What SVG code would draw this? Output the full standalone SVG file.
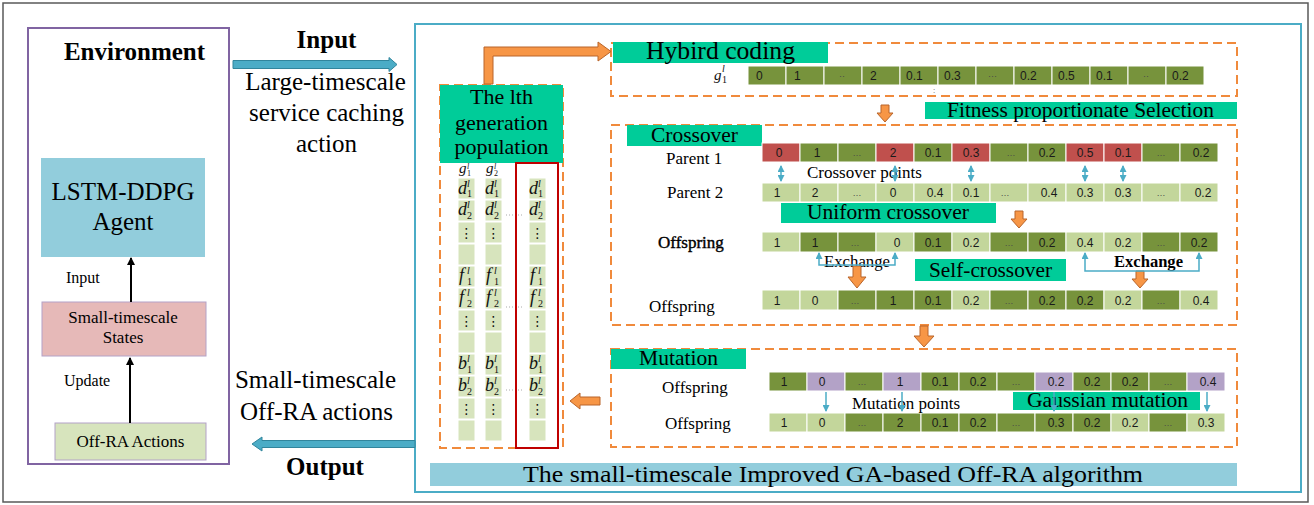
<svg xmlns="http://www.w3.org/2000/svg" width="1314" height="505" viewBox="0 0 1314 505">
<style>
.s{font-family:"Liberation Serif",serif;fill:#000}
.b{font-weight:bold}
.lab{fill:#00CC99}
.dash{fill:none;stroke:#F08A3C;stroke-width:2;stroke-dasharray:9,5}
.dk{fill:#77933C;stroke:#fff;stroke-width:1}
.lt{fill:#C3D69B;stroke:#fff;stroke-width:1}
.rd{fill:#C0504D;stroke:#fff;stroke-width:1}
.pu{fill:#B3A2C7;stroke:#fff;stroke-width:1}
.pc{fill:#D7E4BD;stroke:#fff;stroke-width:1}
.row text{font-family:"Liberation Sans",sans-serif;font-size:12px;fill:#1a1a1a;text-anchor:middle}
.row text.e{fill:#4a4a4a;font-size:9px}
.hy text{text-anchor:start}
.oa{fill:#F79646;stroke:#B9652A;stroke-width:1}
.ba{fill:#4BACC6;stroke:#31859C;stroke-width:1}
.bl{fill:none;stroke:#4BACC6;stroke-width:1.5}
.m{font-family:"Liberation Serif",serif;font-style:italic;font-size:18px;fill:#111}
.m .u{font-size:10px}
.m .n{font-size:10px;font-style:normal}
.g{font-size:15px}
.g .u,.g .n{font-size:8px}
.vd{font-family:"DejaVu Sans",sans-serif;font-size:14px;fill:#111;text-anchor:middle}
</style>
<defs>
<marker id="ak" markerWidth="8" markerHeight="8" refX="7" refY="4" orient="auto" markerUnits="userSpaceOnUse"><path d="M0,0 L8,4 L0,8 z" fill="#000"/></marker>
<marker id="ab" markerWidth="7" markerHeight="7" refX="6" refY="3.5" orient="auto-start-reverse" markerUnits="userSpaceOnUse"><path d="M0,0 L7,3.5 L0,7 z" fill="#4BACC6"/></marker>
</defs>
<rect x="0" y="0" width="1314" height="505" fill="#fff"/>
<rect x="3" y="3" width="1305" height="499" fill="none" stroke="#595959" stroke-width="1.5"/>

<!-- Left: environment -->
<g id="environment">
<rect x="28" y="28" width="201" height="436" fill="none" stroke="#8064A2" stroke-width="2"/>
<text class="s b" x="134.5" y="60" font-size="25" text-anchor="middle">Environment</text>
</g>
<g id="agent">
<rect x="41" y="158" width="164" height="99" fill="#92CDDC"/>
<text class="s" x="123" y="200" font-size="25" text-anchor="middle">LSTM-DDPG</text>
<text class="s" x="123" y="230" font-size="25" text-anchor="middle">Agent</text>
</g>
<g id="states">
<rect x="42" y="302" width="164" height="54" fill="#E6B9B8" stroke="#B3A2C7" stroke-width="1"/>
<text class="s" x="123" y="323" font-size="17" text-anchor="middle">Small-timescale</text>
<text class="s" x="123" y="343" font-size="17" text-anchor="middle">States</text>
</g>
<g id="offra">
<rect x="55" y="423" width="151" height="37" fill="#D7E4BD" stroke="#B3A2C7" stroke-width="1"/>
<text class="s" x="130.5" y="447" font-size="17" text-anchor="middle">Off-RA Actions</text>
</g>

<!-- Population -->
<g id="population">
<rect x="440" y="85" width="123" height="363" class="dash"/>
<rect x="440" y="85" width="123" height="78" class="lab"/>
<text class="s" x="501.5" y="104" font-size="22" text-anchor="middle">The lth</text>
<text class="s" x="501.5" y="130" font-size="22" text-anchor="middle">generation</text>
<text class="s" x="501.5" y="154" font-size="22" text-anchor="middle">population</text>
<g>
<rect class="pc" x="458" y="178" width="17" height="21"/><rect class="pc" x="458" y="200" width="17" height="21"/><rect class="pc" x="458" y="222" width="17" height="21"/><rect class="pc" x="458" y="244" width="17" height="21"/><rect class="pc" x="458" y="266" width="17" height="21"/><rect class="pc" x="458" y="288" width="17" height="21"/><rect class="pc" x="458" y="310" width="17" height="21"/><rect class="pc" x="458" y="332" width="17" height="21"/><rect class="pc" x="458" y="354" width="17" height="21"/><rect class="pc" x="458" y="376" width="17" height="21"/><rect class="pc" x="458" y="398" width="17" height="21"/><rect class="pc" x="458" y="420" width="17" height="21"/>
<rect class="pc" x="485" y="178" width="17" height="21"/><rect class="pc" x="485" y="200" width="17" height="21"/><rect class="pc" x="485" y="222" width="17" height="21"/><rect class="pc" x="485" y="244" width="17" height="21"/><rect class="pc" x="485" y="266" width="17" height="21"/><rect class="pc" x="485" y="288" width="17" height="21"/><rect class="pc" x="485" y="310" width="17" height="21"/><rect class="pc" x="485" y="332" width="17" height="21"/><rect class="pc" x="485" y="354" width="17" height="21"/><rect class="pc" x="485" y="376" width="17" height="21"/><rect class="pc" x="485" y="398" width="17" height="21"/><rect class="pc" x="485" y="420" width="17" height="21"/>
<rect class="pc" x="529" y="178" width="17" height="21"/><rect class="pc" x="529" y="200" width="17" height="21"/><rect class="pc" x="529" y="222" width="17" height="21"/><rect class="pc" x="529" y="244" width="17" height="21"/><rect class="pc" x="529" y="266" width="17" height="21"/><rect class="pc" x="529" y="288" width="17" height="21"/><rect class="pc" x="529" y="310" width="17" height="21"/><rect class="pc" x="529" y="332" width="17" height="21"/><rect class="pc" x="529" y="354" width="17" height="21"/><rect class="pc" x="529" y="376" width="17" height="21"/><rect class="pc" x="529" y="398" width="17" height="21"/><rect class="pc" x="529" y="420" width="17" height="21"/>
</g>
<text class="m g"><tspan x="459" y="173">g</tspan><tspan class="u" x="467" y="169">l</tspan><tspan class="n" x="467" y="176">1</tspan></text>
<text class="m g"><tspan x="486" y="173">g</tspan><tspan class="u" x="494" y="169">l</tspan><tspan class="n" x="494" y="176">2</tspan></text>
<!-- d rows -->
<text class="m"><tspan x="458" y="194">d</tspan><tspan class="u" x="467" y="187">l</tspan><tspan class="n" x="467" y="197">1</tspan></text>
<text class="m"><tspan x="485" y="194">d</tspan><tspan class="u" x="494" y="187">l</tspan><tspan class="n" x="494" y="197">1</tspan></text>
<text class="m"><tspan x="529" y="194">d</tspan><tspan class="u" x="538" y="187">l</tspan><tspan class="n" x="538" y="197">1</tspan></text>
<text class="m"><tspan x="458" y="215">d</tspan><tspan class="u" x="467" y="208">l</tspan><tspan class="n" x="467" y="219">2</tspan></text>
<text class="m"><tspan x="485" y="215">d</tspan><tspan class="u" x="494" y="208">l</tspan><tspan class="n" x="494" y="219">2</tspan></text>
<text class="m"><tspan x="529" y="215">d</tspan><tspan class="u" x="538" y="208">l</tspan><tspan class="n" x="538" y="219">2</tspan></text>
<text class="vd" x="466.5" y="238">⋮</text><text class="vd" x="493.5" y="238">⋮</text><text class="vd" x="537.5" y="238">⋮</text>
<!-- f rows -->
<text class="m"><tspan x="459" y="281">f</tspan><tspan class="u" x="467" y="274">l</tspan><tspan class="n" x="467" y="285">1</tspan></text>
<text class="m"><tspan x="486" y="281">f</tspan><tspan class="u" x="494" y="274">l</tspan><tspan class="n" x="494" y="285">1</tspan></text>
<text class="m"><tspan x="530" y="281">f</tspan><tspan class="u" x="538" y="274">l</tspan><tspan class="n" x="538" y="285">1</tspan></text>
<text class="m"><tspan x="459" y="303">f</tspan><tspan class="u" x="467" y="296">l</tspan><tspan class="n" x="467" y="307">2</tspan></text>
<text class="m"><tspan x="486" y="303">f</tspan><tspan class="u" x="494" y="296">l</tspan><tspan class="n" x="494" y="307">2</tspan></text>
<text class="m"><tspan x="530" y="303">f</tspan><tspan class="u" x="538" y="296">l</tspan><tspan class="n" x="538" y="307">2</tspan></text>
<text class="vd" x="466.5" y="326">⋮</text><text class="vd" x="493.5" y="326">⋮</text><text class="vd" x="537.5" y="326">⋮</text>
<!-- b rows -->
<text class="m"><tspan x="458" y="369">b</tspan><tspan class="u" x="467" y="362">l</tspan><tspan class="n" x="467" y="373">1</tspan></text>
<text class="m"><tspan x="485" y="369">b</tspan><tspan class="u" x="494" y="362">l</tspan><tspan class="n" x="494" y="373">1</tspan></text>
<text class="m"><tspan x="529" y="369">b</tspan><tspan class="u" x="538" y="362">l</tspan><tspan class="n" x="538" y="373">1</tspan></text>
<text class="m"><tspan x="458" y="391">b</tspan><tspan class="u" x="467" y="384">l</tspan><tspan class="n" x="467" y="395">2</tspan></text>
<text class="m"><tspan x="485" y="391">b</tspan><tspan class="u" x="494" y="384">l</tspan><tspan class="n" x="494" y="395">2</tspan></text>
<text class="m"><tspan x="529" y="391">b</tspan><tspan class="u" x="538" y="384">l</tspan><tspan class="n" x="538" y="395">2</tspan></text>
<text class="vd" x="466.5" y="414">⋮</text><text class="vd" x="493.5" y="414">⋮</text><text class="vd" x="537.5" y="414">⋮</text>
<g stroke="#aaa" stroke-width="1" stroke-dasharray="1,2"><line x1="506" y1="215" x2="524" y2="215"/><line x1="506" y1="307" x2="524" y2="307"/><line x1="506" y1="390" x2="524" y2="390"/></g>
<rect x="516" y="163" width="42" height="285" fill="none" stroke="#C00000" stroke-width="2"/>
</g>

<!-- Right big box -->
<g id="algorithm">
<rect x="415" y="24" width="886" height="468" fill="none" stroke="#4BACC6" stroke-width="2"/>
<rect x="430" y="463" width="807" height="23" fill="#92CDDC"/>
<text class="s" x="523" y="482" font-size="24" textLength="620" lengthAdjust="spacingAndGlyphs">The small-timescale Improved GA-based Off-RA algorithm</text>
</g>

<!-- Hybird coding -->
<g id="hybird">
<rect x="611" y="43" width="626" height="53" class="dash"/>
<rect x="613" y="42" width="215" height="21" class="lab"/>
<text class="s" x="646" y="59" font-size="25" textLength="149" lengthAdjust="spacingAndGlyphs">Hybird coding</text>
<text class="m"><tspan x="714" y="80" font-size="15">g</tspan><tspan class="u" x="722" y="72">l</tspan><tspan class="n" x="722" y="83">1</tspan></text>
<g class="row hy" transform="translate(748,66)">
<rect class="dk" x="0" width="38" height="19"/><rect class="dk" x="38" width="38" height="19"/><rect class="dk" x="76" width="38" height="19"/><rect class="dk" x="114" width="38" height="19"/><rect class="dk" x="152" width="38" height="19"/><rect class="dk" x="190" width="38" height="19"/><rect class="dk" x="228" width="38" height="19"/><rect class="dk" x="266" width="38" height="19"/><rect class="dk" x="304" width="38" height="19"/><rect class="dk" x="342" width="38" height="19"/><rect class="dk" x="380" width="38" height="19"/><rect class="dk" x="418" width="38" height="19"/>
<text x="8" y="14">0</text><text x="46" y="14">1</text><text class="e" x="91" y="13">··</text><text x="122" y="14">2</text><text x="158" y="14">0.1</text><text x="196" y="14">0.3</text><text class="e" x="240" y="13">···</text><text x="272" y="14">0.2</text><text x="310" y="14">0.5</text><text x="348" y="14">0.1</text><text class="e" x="395" y="13">··</text><text x="424" y="14">0.2</text>
</g>
<text x="933" y="93" font-family="Liberation Sans,sans-serif" font-size="8" fill="#555">:</text>
</g>

<g id="selection">
<rect x="925" y="102" width="312" height="17" class="lab"/>
<text class="s" x="947" y="117" font-size="21" textLength="267" lengthAdjust="spacingAndGlyphs">Fitness proportionate Selection</text>
</g>

<!-- Crossover -->
<g id="crossover">
<rect x="611" y="125" width="626" height="200" class="dash"/>
<rect x="627" y="125" width="135" height="21" class="lab"/>
<text class="s" x="651" y="142" font-size="22" textLength="87" lengthAdjust="spacingAndGlyphs">Crossover</text>
<text class="s" x="666" y="164" font-size="17">Parent 1</text>
<text class="s" x="667" y="198" font-size="17">Parent 2</text>
<text class="s" x="807" y="178" font-size="17">Crossover points</text>
<g class="row" transform="translate(762,143)">
<rect class="rd" x="0" width="38" height="19"/><rect class="dk" x="38" width="38" height="19"/><rect class="dk" x="76" width="38" height="19"/><rect class="rd" x="114" width="38" height="19"/><rect class="dk" x="152" width="38" height="19"/><rect class="rd" x="190" width="38" height="19"/><rect class="dk" x="228" width="38" height="19"/><rect class="dk" x="266" width="38" height="19"/><rect class="rd" x="304" width="38" height="19"/><rect class="rd" x="342" width="38" height="19"/><rect class="dk" x="380" width="38" height="19"/><rect class="dk" x="418" width="38" height="19"/>
<text x="17" y="14">0</text><text x="55" y="14">1</text><text class="e" x="95" y="13">…</text><text x="131" y="14">2</text><text x="171" y="14">0.1</text><text x="209" y="14">0.3</text><text class="e" x="249" y="13">…</text><text x="285" y="14">0.2</text><text x="323" y="14">0.5</text><text x="361" y="14">0.1</text><text class="e" x="399" y="13">…</text><text x="439" y="14">0.2</text>
</g>
<g class="row" transform="translate(762,183)">
<rect class="lt" x="0" width="38" height="19"/><rect class="lt" x="38" width="38" height="19"/><rect class="lt" x="76" width="38" height="19"/><rect class="lt" x="114" width="38" height="19"/><rect class="lt" x="152" width="38" height="19"/><rect class="lt" x="190" width="38" height="19"/><rect class="lt" x="228" width="38" height="19"/><rect class="lt" x="266" width="38" height="19"/><rect class="lt" x="304" width="38" height="19"/><rect class="lt" x="342" width="38" height="19"/><rect class="lt" x="380" width="38" height="19"/><rect class="lt" x="418" width="38" height="19"/>
<text x="15" y="14">1</text><text x="53" y="14">2</text><text class="e" x="95" y="13">…</text><text x="131" y="14">0</text><text x="173" y="14">0.4</text><text x="209" y="14">0.1</text><text class="e" x="243" y="13">…</text><text x="287" y="14">0.4</text><text x="323" y="14">0.3</text><text x="361" y="14">0.3</text><text class="e" x="399" y="13">…</text><text x="441" y="14">0.2</text>
</g>
<rect x="781" y="203" width="215" height="20" class="lab"/>
<text class="s" x="807" y="219" font-size="21" textLength="162" lengthAdjust="spacingAndGlyphs">Uniform crossover</text>
<text class="s" x="658" y="248" font-size="17" stroke="#000" stroke-width="0.4">Offspring</text>
<g class="row" transform="translate(762,232)">
<rect class="lt" x="0" width="38" height="20"/><rect class="dk" x="38" width="38" height="20"/><rect class="dk" x="76" width="38" height="20"/><rect class="lt" x="114" width="38" height="20"/><rect class="dk" x="152" width="38" height="20"/><rect class="lt" x="190" width="38" height="20"/><rect class="dk" x="228" width="38" height="20"/><rect class="dk" x="266" width="38" height="20"/><rect class="lt" x="304" width="38" height="20"/><rect class="lt" x="342" width="38" height="20"/><rect class="dk" x="380" width="38" height="20"/><rect class="dk" x="418" width="38" height="20"/>
<text x="15" y="15">1</text><text x="53" y="15">1</text><text class="e" x="93" y="14">…</text><text x="135" y="15">0</text><text x="171" y="15">0.1</text><text x="209" y="15">0.2</text><text class="e" x="247" y="14">…</text><text x="285" y="15">0.2</text><text x="323" y="15">0.4</text><text x="361" y="15">0.2</text><text class="e" x="399" y="14">…</text><text x="437" y="15">0.2</text>
</g>
<rect x="915" y="259" width="151" height="22" class="lab"/>
<text class="s" x="929" y="277" font-size="22" textLength="123" lengthAdjust="spacingAndGlyphs">Self-crossover</text>
<text class="s" x="824" y="267" font-size="17" textLength="66" lengthAdjust="spacingAndGlyphs">Exchange</text>
<text class="s b" x="1114" y="267" font-size="16" textLength="69" lengthAdjust="spacingAndGlyphs">Exchange</text>
<text class="s" x="649" y="312" font-size="17">Offspring</text>
<g class="row" transform="translate(762,290)">
<rect class="lt" x="0" width="38" height="20"/><rect class="lt" x="38" width="38" height="20"/><rect class="dk" x="76" width="38" height="20"/><rect class="dk" x="114" width="38" height="20"/><rect class="dk" x="152" width="38" height="20"/><rect class="lt" x="190" width="38" height="20"/><rect class="dk" x="228" width="38" height="20"/><rect class="dk" x="266" width="38" height="20"/><rect class="dk" x="304" width="38" height="20"/><rect class="lt" x="342" width="38" height="20"/><rect class="dk" x="380" width="38" height="20"/><rect class="lt" x="418" width="38" height="20"/>
<text x="15" y="15">1</text><text x="53" y="15">0</text><text class="e" x="93" y="14">…</text><text x="131" y="15">1</text><text x="171" y="15">0.1</text><text x="209" y="15">0.2</text><text class="e" x="247" y="14">…</text><text x="285" y="15">0.2</text><text x="323" y="15">0.2</text><text x="361" y="15">0.2</text><text class="e" x="399" y="14">…</text><text x="439" y="15">0.4</text>
</g>
</g>

<!-- Mutation -->
<g id="mutation">
<rect x="611" y="349" width="626" height="98" class="dash"/>
<rect x="611" y="349" width="135" height="20" class="lab"/>
<text class="s" x="639" y="365" font-size="22" textLength="79" lengthAdjust="spacingAndGlyphs">Mutation</text>
<text class="s" x="662" y="393" font-size="17">Offspring</text>
<text class="s" x="665" y="429" font-size="17">Offspring</text>
<g class="row" transform="translate(769,372)">
<rect class="dk" x="0" width="38" height="19"/><rect class="pu" x="38" width="38" height="19"/><rect class="dk" x="76" width="38" height="19"/><rect class="pu" x="114" width="38" height="19"/><rect class="dk" x="152" width="38" height="19"/><rect class="dk" x="190" width="38" height="19"/><rect class="dk" x="228" width="38" height="19"/><rect class="pu" x="266" width="38" height="19"/><rect class="dk" x="304" width="38" height="19"/><rect class="dk" x="342" width="38" height="19"/><rect class="dk" x="380" width="38" height="19"/><rect class="pu" x="418" width="38" height="19"/>
<text x="15" y="14">1</text><text x="53" y="14">0</text><text class="e" x="93" y="13">…</text><text x="131" y="14">1</text><text x="171" y="14">0.1</text><text x="209" y="14">0.2</text><text class="e" x="247" y="13">…</text><text x="287" y="14">0.2</text><text x="323" y="14">0.2</text><text x="361" y="14">0.2</text><text class="e" x="399" y="13">…</text><text x="439" y="14">0.4</text>
</g>
<g class="row" transform="translate(769,413)">
<rect class="lt" x="0" width="38" height="19"/><rect class="lt" x="38" width="38" height="19"/><rect class="dk" x="76" width="38" height="19"/><rect class="dk" x="114" width="38" height="19"/><rect class="dk" x="152" width="38" height="19"/><rect class="dk" x="190" width="38" height="19"/><rect class="dk" x="228" width="38" height="19"/><rect class="dk" x="266" width="38" height="19"/><rect class="dk" x="304" width="38" height="19"/><rect class="lt" x="342" width="38" height="19"/><rect class="dk" x="380" width="38" height="19"/><rect class="lt" x="418" width="38" height="19"/>
<text x="15" y="14">1</text><text x="53" y="14">0</text><text class="e" x="93" y="13">…</text><text x="131" y="14">2</text><text x="171" y="14">0.1</text><text x="209" y="14">0.2</text><text class="e" x="247" y="13">…</text><text x="287" y="14">0.3</text><text x="323" y="14">0.2</text><text x="361" y="14">0.2</text><text class="e" x="399" y="13">…</text><text x="437" y="14">0.3</text>
</g>
<rect x="1013" y="392" width="187" height="18" class="lab"/>
<text class="s" x="1027" y="407" font-size="21" textLength="161" lengthAdjust="spacingAndGlyphs">Gaussian mutation</text>
<text class="s" x="852" y="409" font-size="17">Mutation points</text>
</g>

<!-- Connectors -->
<g id="connectors">
<line x1="131" y1="302" x2="131" y2="258" stroke="#000" stroke-width="2" marker-end="url(#ak)"/>
<line x1="130" y1="423" x2="130" y2="358" stroke="#000" stroke-width="2" marker-end="url(#ak)"/>
<text class="s" x="66" y="283" font-size="16">Input</text>
<text class="s" x="64" y="386" font-size="16">Update</text>
<polygon class="ba" points="233,60.5 389,60.5 389,57.5 397,64.5 389,71.5 389,68.5 233,68.5"/>
<text class="s b" x="326.5" y="48" font-size="25" text-anchor="middle">Input</text>
<text class="s" x="325.5" y="90" font-size="25" text-anchor="middle">Large-timescale</text>
<text class="s" x="326.5" y="121" font-size="25" text-anchor="middle">service caching</text>
<text class="s" x="326.5" y="152" font-size="25" text-anchor="middle">action</text>
<polygon class="ba" points="415,440.5 262,440.5 262,437 252,444 262,451 262,447.5 415,447.5"/>
<text class="s" x="315.5" y="388" font-size="25" text-anchor="middle">Small-timescale</text>
<text class="s" x="316.5" y="420" font-size="25" text-anchor="middle">Off-RA actions</text>
<text class="s b" x="325" y="475" font-size="25" text-anchor="middle">Output</text>
<polygon class="oa" points="484,84 484,47 598,47 598,42 611,51.5 598,61 598,56 493,56 493,84"/>
<polygon class="oa" points="881,105 889,105 889,113 893,113 885,122 877,113 881,113"/>
<polygon class="oa" points="1015,211 1023,211 1023,219 1027,219 1019,228 1011,219 1015,219"/>
<polygon class="oa" points="853,266 861,266 861,277 866,277 857,288 848,277 853,277"/>
<polygon class="oa" points="1136,271 1144,271 1144,279 1148,279 1140,288 1132,279 1136,279"/>
<polygon class="oa" points="920,326 928,326 928,336 934,336 924,347 914,336 920,336"/>
<polygon class="oa" points="600,397 580,397 580,393 570,401 580,409 580,405 600,405"/>
<g class="bl">
<line x1="781" y1="166" x2="781" y2="181" marker-start="url(#ab)" marker-end="url(#ab)"/>
<line x1="895" y1="166" x2="895" y2="181" marker-start="url(#ab)" marker-end="url(#ab)"/>
<line x1="971" y1="166" x2="971" y2="181" marker-start="url(#ab)" marker-end="url(#ab)"/>
<line x1="1085" y1="166" x2="1085" y2="181" marker-start="url(#ab)" marker-end="url(#ab)"/>
<line x1="1123" y1="166" x2="1123" y2="181" marker-start="url(#ab)" marker-end="url(#ab)"/>
<polyline points="819,253 819,265 895,265 895,253" marker-start="url(#ab)" marker-end="url(#ab)"/>
<polyline points="1085,253 1085,271 1199,271 1199,253" marker-start="url(#ab)" marker-end="url(#ab)"/>
<line x1="826" y1="392" x2="826" y2="411" marker-end="url(#ab)"/>
<line x1="902" y1="392" x2="902" y2="411" marker-end="url(#ab)"/>
<line x1="1054" y1="392" x2="1054" y2="411" marker-end="url(#ab)"/>
<line x1="1207" y1="392" x2="1207" y2="411" marker-end="url(#ab)"/>
</g>
</g>
</svg>
